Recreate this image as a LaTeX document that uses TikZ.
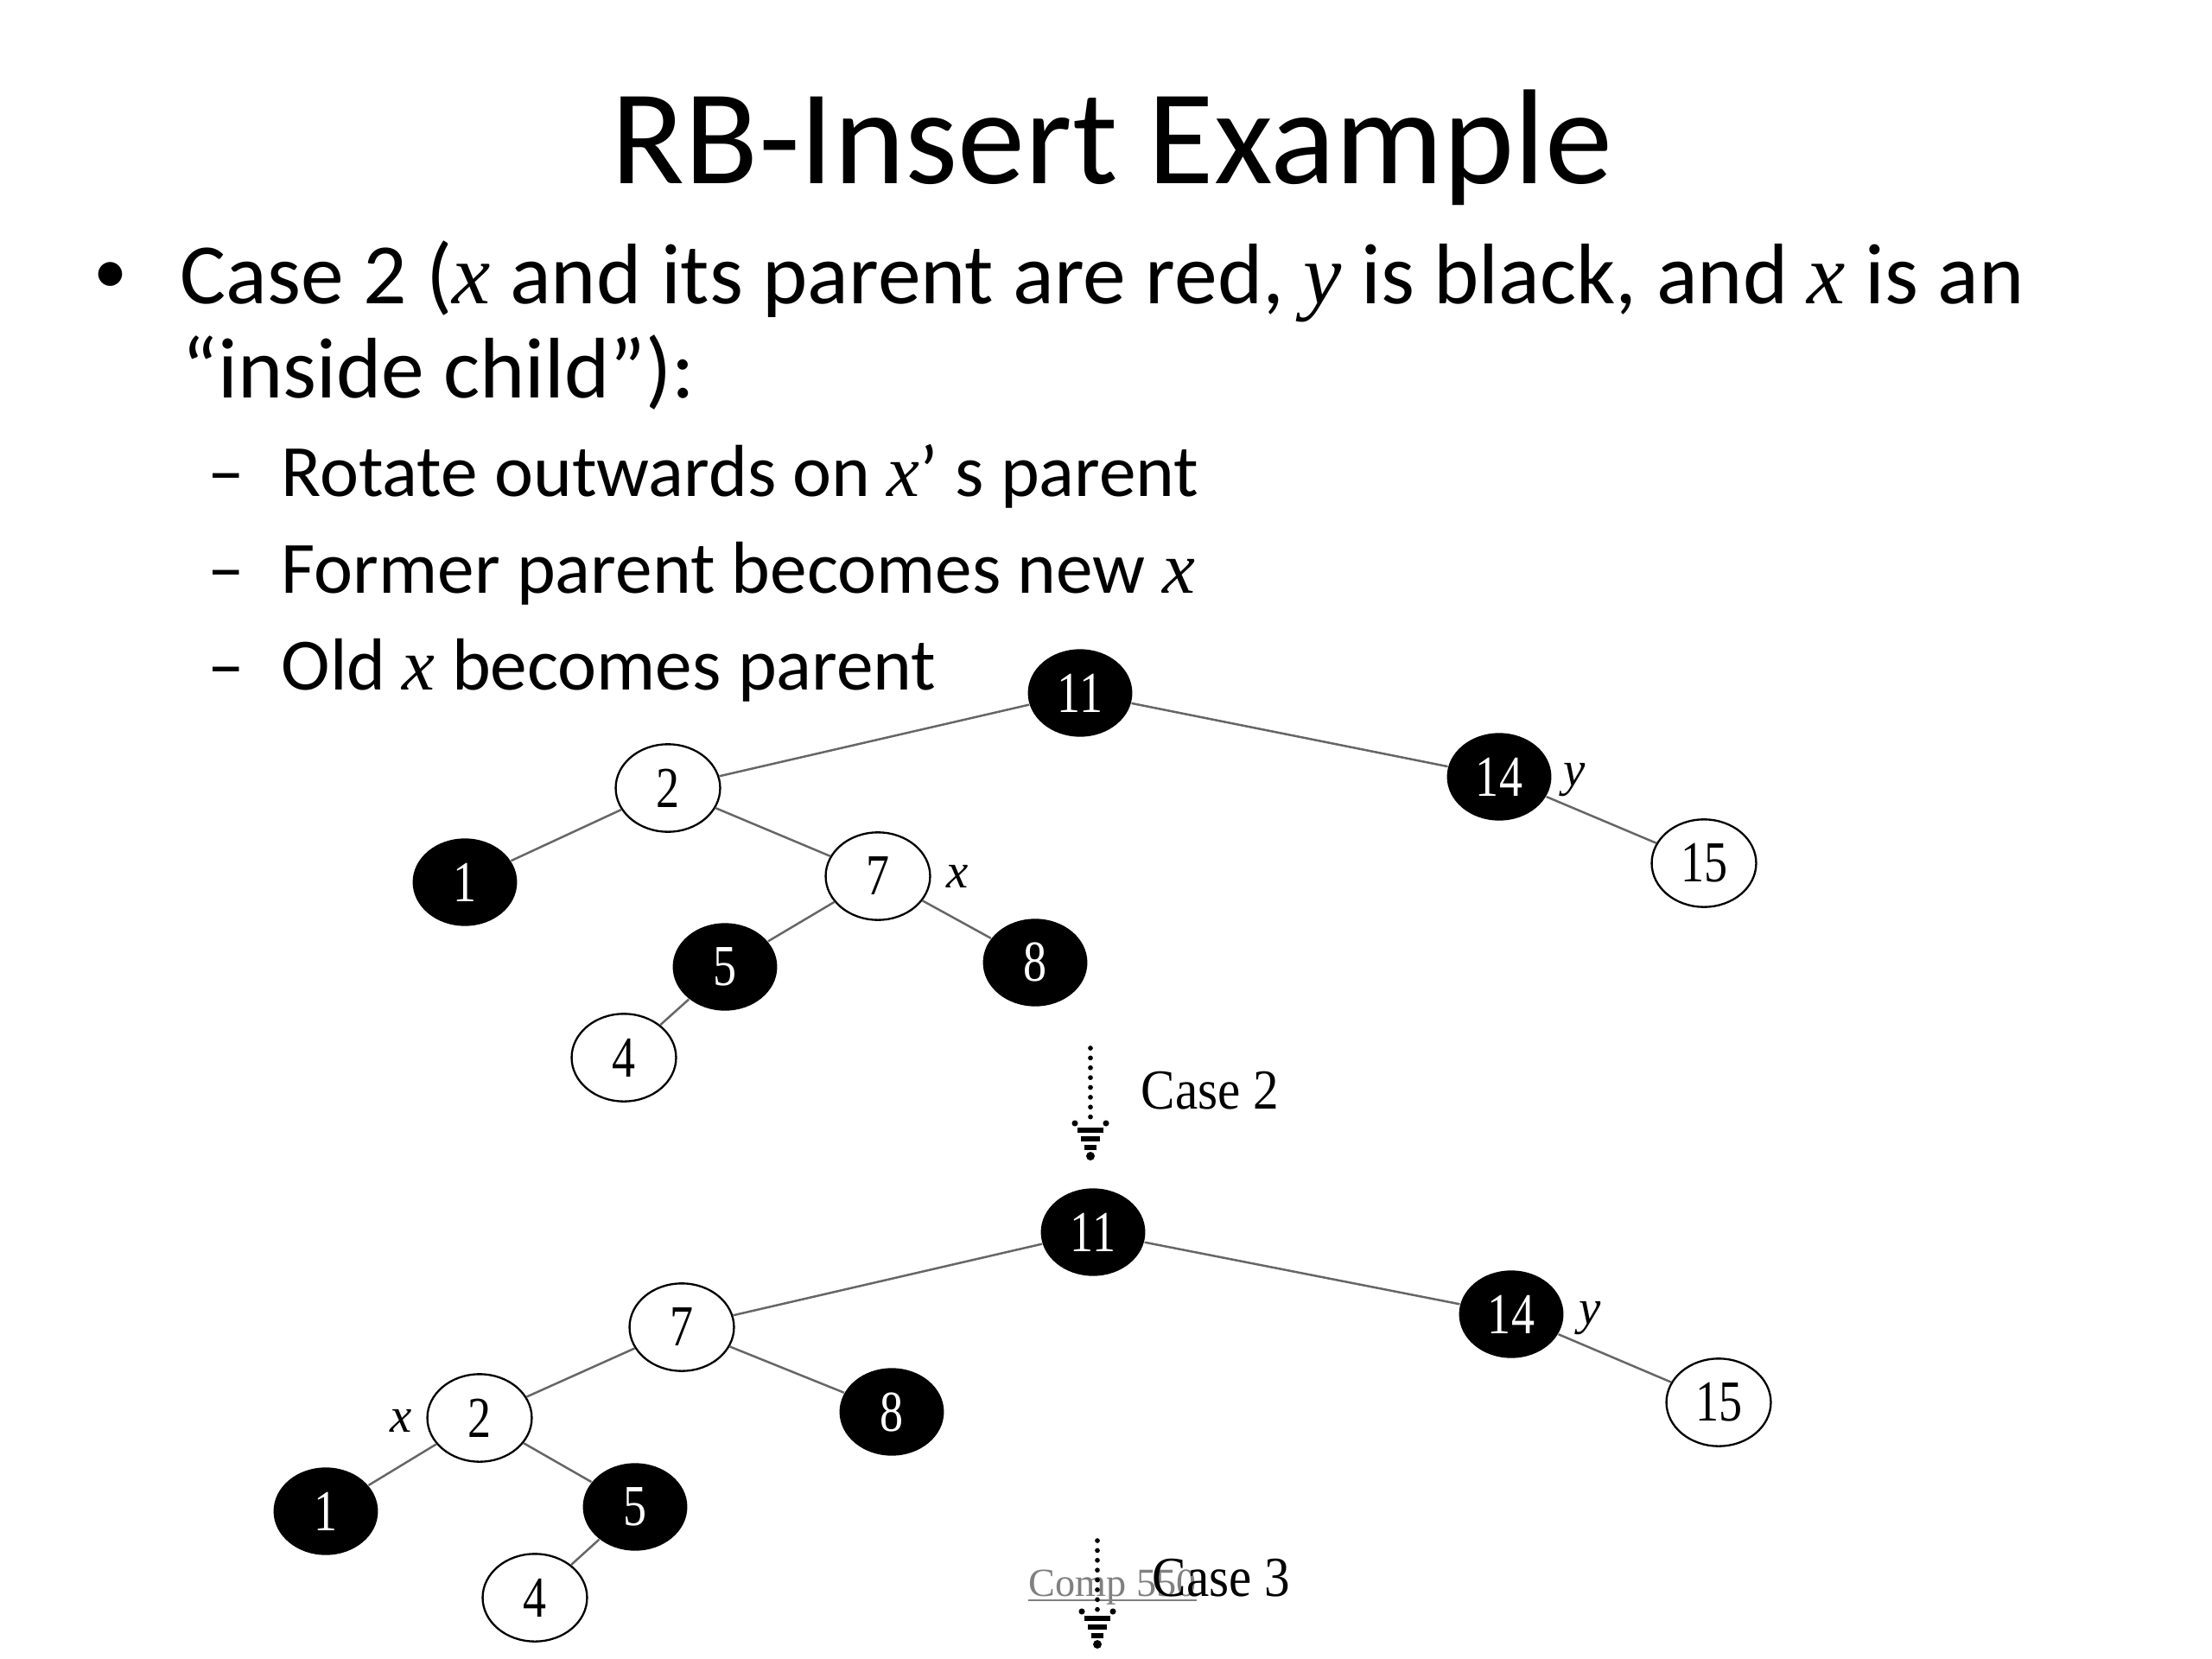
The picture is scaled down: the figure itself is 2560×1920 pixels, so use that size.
\documentclass[tikz,border=0pt]{standalone}
\usepackage{fontspec}
\setmainfont{Carlito}
\newfontfamily\tms{Liberation Serif}
\usetikzlibrary{shapes.geometric,calc}
\newcommand{\tall}[1]{\scalebox{0.95}[1.18]{#1}}
\newcommand{\tallcase}[1]{\scalebox{1.04}[1.15]{#1}}
\begin{document}
\begin{tikzpicture}[x=0.28125pt,y=-0.28125pt,
  rbn/.style={ellipse, inner sep=0pt, minimum width=34pt, minimum height=28.5pt, font=\tms\fontsize{16}{16}\selectfont},
  blk/.style={rbn, fill=black, text=white},
  wht/.style={rbn, draw=black, line width=0.65pt, fill=white},
  edge/.style={draw=black!60, line width=0.7pt},
  lbl/.style={font=\tms\itshape\fontsize{16}{16}\selectfont, inner sep=0pt},
  caselbl/.style={font=\tms\fontsize{16}{16}\selectfont, inner sep=0pt, anchor=base west},
  dotline/.style={line width=1.6pt, line cap=round, dash pattern=on 0pt off 3.2pt},
  dashhead/.pic={
    \fill (-18,0) circle (1pt); \fill (18,0) circle (1pt);
    \draw[line width=1.6pt] (-15,8) -- (15,8);
    \draw[line width=1.6pt] (-11,18) -- (11,18);
    \draw[line width=1.6pt] (-7,28) -- (7,28);
    \fill (0,38) circle (1.4pt);
  },
  txt/.style={inner sep=0pt, anchor=base west},
  lvla/.style={txt, font=\fontsize{28}{28}\selectfont},
  lvlb/.style={txt, font=\fontsize{24}{24}\selectfont}
]
\useasboundingbox (0,0) rectangle (2560,1920);

% title and text
\node[inner sep=0pt, anchor=base, font=\fontsize{44}{44}\selectfont] (title) at (1287,213) {RB-Insert Example};
\node[inner sep=0pt, font=\fontsize{22}{22}\selectfont] (bul) at (128,322) {•};
\node[lvla] (l1) at (208,352) {Case 2 ({\tms\itshape x} and its parent are red, {\tms\itshape y} is black, and {\tms\itshape x} is an};
\node[lvla] (l2) at (210,461) {“inside child”):};
\node[lvlb] (d1) at (240,575) {–};
\node[lvlb] (s1) at (325,575) {Rotate outwards on {\tms\itshape x}’ s parent};
\node[lvlb] (d2) at (240,687) {–};
\node[lvlb] (s2) at (325,687) {Former parent becomes new {\tms\itshape x}};
\node[lvlb] (d3) at (240,798) {–};
\node[lvlb] (s3) at (325,798) {Old {\tms\itshape x} becomes parent};

% top tree
\node[blk] (a11) at (1250,802) {\tall{11}};
\node[wht] (a2) at (773,912) {\tall{2}};
\node[blk] (a14) at (1735,899) {\tall{14}};
\node[blk] (a1) at (538,1021) {\tall{1}};
\node[wht] (a7) at (1016,1014) {\tall{7}};
\node[wht] (a15) at (1972,999) {\tall{15}};
\node[blk] (a5) at (839,1119) {\tall{5}};
\node[blk] (a8) at (1198,1114) {\tall{8}};
\node[wht] (a4) at (722,1224) {\tall{4}};
\node[lbl] (ay) at (1822,903) {y};
\node[lbl] (ax) at (1108,1014) {x};
\draw[edge] (a11) -- (a2);
\draw[edge] (a11) -- (a14);
\draw[edge] (a2) -- (a1);
\draw[edge] (a2) -- (a7);
\draw[edge] (a14) -- (a15);
\draw[edge] (a7) -- (a5);
\draw[edge] (a7) -- (a8);
\draw[edge] (a5) -- (a4);

% case 2 arrow
\coordinate (c2s) at (1262,1213);
\coordinate (c2e) at (1262,1300);
\draw[dotline] (c2s) -- (c2e);
\pic at (c2e) {dashhead};
\node[caselbl] (case2) at (1320,1283) {\tallcase{Case 2}};

% bottom tree
\node[blk] (b11) at (1265,1426) {\tall{11}};
\node[wht] (b7) at (789,1536) {\tall{7}};
\node[blk] (b14) at (1749,1521) {\tall{14}};
\node[wht] (b2) at (555,1641) {\tall{2}};
\node[blk] (b8) at (1032,1634) {\tall{8}};
\node[wht] (b15) at (1989,1623) {\tall{15}};
\node[blk] (b1) at (377,1749) {\tall{1}};
\node[blk] (b5) at (735,1744) {\tall{5}};
\node[wht] (b4) at (619,1849) {\tall{4}};
\node[lbl] (by) at (1840,1526) {y};
\node[lbl] (bx) at (464,1644) {x};
\draw[edge] (b11) -- (b7);
\draw[edge] (b11) -- (b14);
\draw[edge] (b7) -- (b2);
\draw[edge] (b7) -- (b8);
\draw[edge] (b14) -- (b15);
\draw[edge] (b2) -- (b1);
\draw[edge] (b2) -- (b5);
\draw[edge] (b5) -- (b4);

% footer and case 3 arrow
\node[txt, text=black!50, font=\tms\fontsize{13}{13}\selectfont] (foot) at (1190,1847) {Comp 550};
\draw[black!50, line width=0.6pt] ($(foot.base west)+(0,5)$) -- ($(foot.base east)+(0,5)$);
\coordinate (c3s) at (1270,1783);
\coordinate (c3e) at (1270,1865);
\draw[dotline] (c3s) -- (c3e);
\pic at (c3e) {dashhead};
\node[caselbl] (case3) at (1333,1847) {\tallcase{Case 3}};
\end{tikzpicture}
\end{document}
